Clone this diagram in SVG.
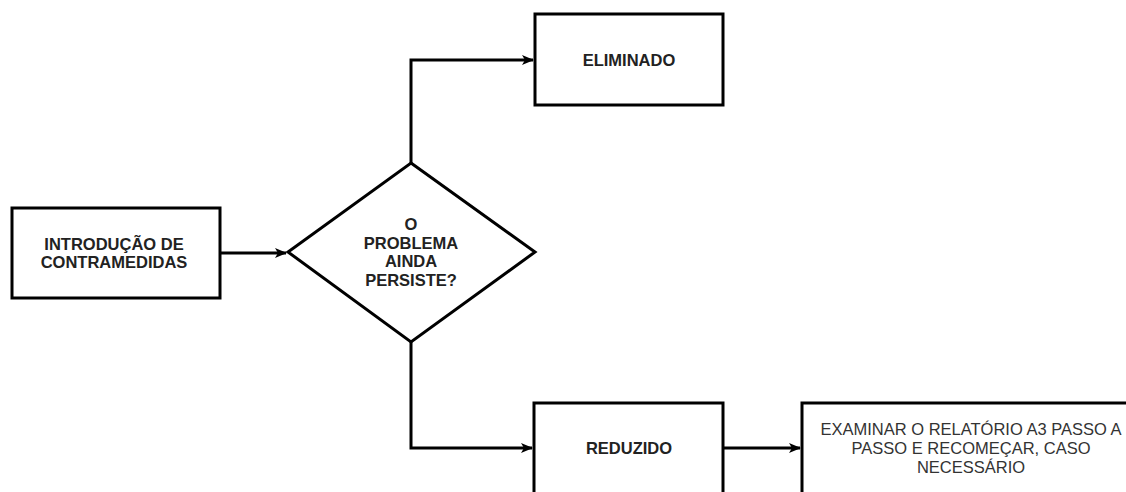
<svg xmlns="http://www.w3.org/2000/svg" width="1126" height="492" viewBox="0 0 1126 492">
<style>
.box{fill:#fff;stroke:#000;stroke-width:3}
.lbl{font-family:"Liberation Sans",Arial,sans-serif;font-size:16.5px;font-weight:bold;fill:#222;text-anchor:middle}
.lbl2{font-family:"Liberation Sans",Arial,sans-serif;font-size:16.5px;fill:#333;text-anchor:middle}
.edge{fill:none;stroke:#000;stroke-width:3}
</style>
<defs>
<marker id="arr" markerUnits="userSpaceOnUse" markerWidth="12" markerHeight="10" refX="11" refY="5" orient="auto">
<path d="M0,0 L12,5 L0,10 L3,5 Z" fill="#000"/>
</marker>
</defs>
<rect width="1126" height="492" fill="#fff"/>
<g id="edges">
<path class="edge" d="M220,253 L286,253" marker-end="url(#arr)"/>
<path class="edge" d="M411,163 L411,60 L533,60" marker-end="url(#arr)"/>
<path class="edge" d="M411,342 L411,448 L532,448" marker-end="url(#arr)"/>
<path class="edge" d="M723,448 L800,448" marker-end="url(#arr)"/>
</g>
<g id="n1">
<rect class="box" x="12" y="208" width="208" height="90"/>
<text class="lbl" x="114" y="250">INTRODUÇÃO DE</text>
<text class="lbl" x="114" y="268">CONTRAMEDIDAS</text>
</g>
<g id="n2">
<polygon class="box" points="411,163 535,252 411,342 288,252"/>
<text class="lbl" x="411" y="230">O</text>
<text class="lbl" x="411" y="249">PROBLEMA</text>
<text class="lbl" x="411" y="267">AINDA</text>
<text class="lbl" x="411" y="286">PERSISTE?</text>
</g>
<g id="n3">
<rect class="box" x="535" y="14" width="188" height="91"/>
<text class="lbl" x="629" y="66">ELIMINADO</text>
</g>
<g id="n4">
<rect class="box" x="534" y="403" width="189" height="100"/>
<text class="lbl" x="629" y="454">REDUZIDO</text>
</g>
<g id="n5">
<rect class="box" x="802" y="403" width="340" height="100"/>
<text class="lbl2" x="971" y="435">EXAMINAR O RELATÓRIO A3 PASSO A</text>
<text class="lbl2" x="971" y="454">PASSO E RECOMEÇAR, CASO</text>
<text class="lbl2" x="971" y="473">NECESSÁRIO</text>
</g>
</svg>
